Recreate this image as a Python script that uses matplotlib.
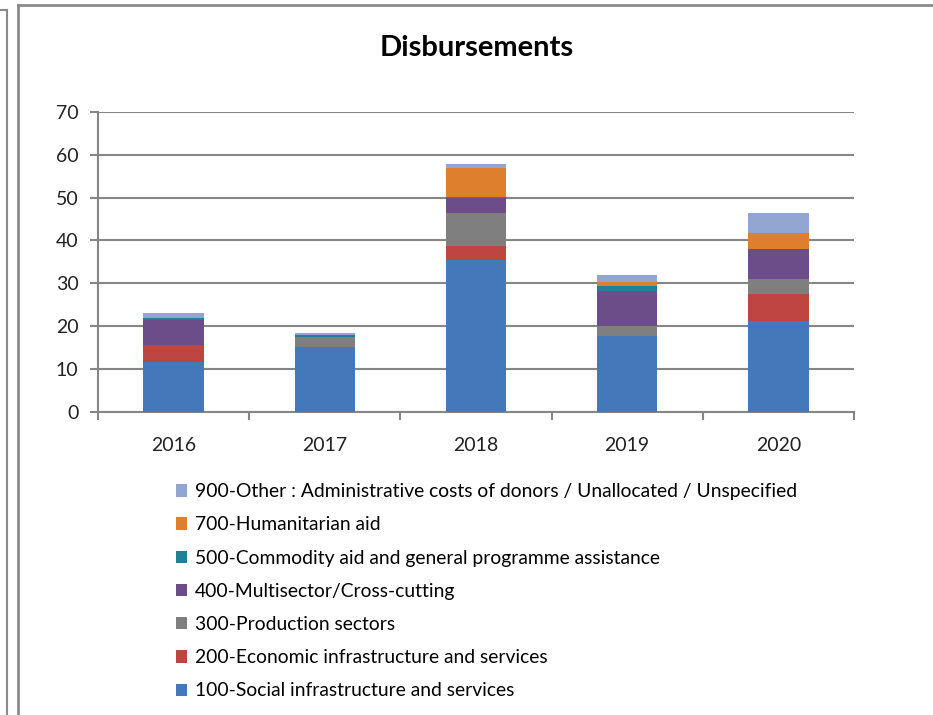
import matplotlib
matplotlib.use("Agg")
import matplotlib.pyplot as plt
from matplotlib.lines import Line2D
import numpy as np

plt.rcParams['font.family'] = ['Lato', 'DejaVu Sans']

years = ["2016", "2017", "2018", "2019", "2020"]
labels = [
    "100-Social infrastructure and services",
    "200-Economic infrastructure and services",
    "300-Production sectors",
    "400-Multisector/Cross-cutting",
    "500-Commodity aid and general programme assistance",
    "700-Humanitarian aid",
    "900-Other : Administrative costs of donors / Unallocated / Unspecified",
]
social = [11.7, 15.2, 35.5, 17.7, 21.1]
economic = [3.8, 0.0, 3.1, 0.0, 6.5]
production = [0.0, 2.2, 7.8, 2.2, 3.5]
multisector = [6.0, 0.0, 3.4, 8.4, 6.9]
commodity = [0.3, 0.6, 0.3, 1.0, 0.0]
humanitarian = [0.0, 0.0, 6.7, 1.1, 3.8]
other = [1.2, 0.35, 1.1, 1.6, 4.6]

series = [social, economic, production, multisector, commodity, humanitarian, other]
colors = ["#4379BB", "#BE4540", "#7F7F7F", "#6C4D8A", "#1F8198", "#DE7F2E", "#91A6D0"]

fig = plt.figure(figsize=(9.33, 7.15), dpi=100)
ax = fig.add_axes([0.105, 0.4242, 0.8103, 0.4192])

x = np.arange(len(years))
bottom = np.zeros(len(years))
handles = []
for vals, col, lab in zip(series, colors, labels):
    b = ax.bar(x, vals, 0.4, bottom=bottom, color=col, label=lab, zorder=3)
    handles.append(b)
    bottom += np.array(vals)

grid_col = "#868686"
ax.set_ylim(0, 70)
ax.set_yticks(range(0, 71, 10))
ax.set_xlim(-0.5, 4.5)
ax.set_xticks(x)
ax.set_xticklabels(years)
ax.set_xticks(np.arange(-0.5, 5, 1), minor=True)
ax.tick_params(axis='x', which='major', length=0, labelsize=14, pad=18, colors='#222222')
ax.tick_params(axis='x', which='minor', length=6, width=1.5, color=grid_col, direction='out')
ax.tick_params(axis='y', length=6, width=1.5, color=grid_col, labelsize=14, pad=8, labelcolor='#222222')
ax.yaxis.grid(True, color=grid_col, linewidth=1.5, zorder=0)
ax.set_axisbelow(True)
for s in ['top', 'right']:
    ax.spines[s].set_visible(False)
for s in ['left', 'bottom']:
    ax.spines[s].set_color(grid_col)
    ax.spines[s].set_linewidth(1.5)

fig.text(0.511, 0.933, "Disbursements", ha='center', va='center', fontsize=21, fontweight='bold')

fig.legend(handles[::-1], labels[::-1], loc='upper left', bbox_to_anchor=(0.180, 0.335),
           frameon=False, fontsize=13.9, handlelength=0.6, handleheight=0.6,
           handletextpad=0.4, labelspacing=0.84, borderaxespad=0)

# chart frames
fc = "#8a8a8a"
fig.add_artist(Line2D([18/933, 18/933], [0, 1 - 5/715], color=fc, lw=2, transform=fig.transFigure))
fig.add_artist(Line2D([18/933, 1], [1 - 5/715, 1 - 5/715], color=fc, lw=2, transform=fig.transFigure))
fig.add_artist(Line2D([7/933, 7/933], [0, 1 - 10/715], color=fc, lw=1.5, transform=fig.transFigure))
fig.add_artist(Line2D([0, 7/933], [1 - 10/715, 1 - 10/715], color=fc, lw=1.5, transform=fig.transFigure))

fig.savefig("out.png", dpi=100)
